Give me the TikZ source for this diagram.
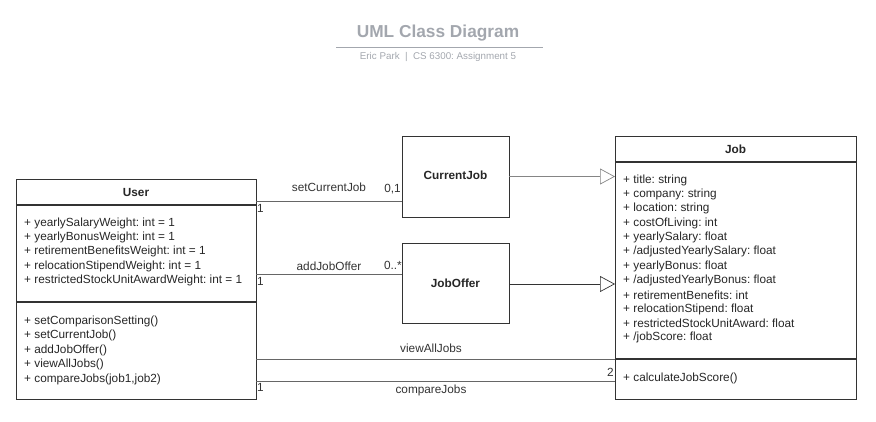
\documentclass[tikz,border=0pt]{standalone}
\usepackage{fontspec}
\setmainfont{Liberation Sans}
\usetikzlibrary{arrows.meta}
\definecolor{ttl}{HTML}{A3A7AE}
\definecolor{edge}{HTML}{333333}
\definecolor{conn}{HTML}{666666}
\frenchspacing
\begin{document}
\begin{tikzpicture}[x=1pt,y=-1pt,
  txt/.style={inner sep=0pt,font=\fontsize{11.8}{14}\selectfont,text=black!85},
  lbl/.style={inner sep=0pt,font=\fontsize{11.8}{14}\selectfont,text=black!80},
  bold/.style={inner sep=0pt,font=\fontsize{11.8}{14}\selectfont\bfseries,text=black!85},
  boxline/.style={draw=edge,line width=1.2pt},
  assoc/.style={draw=conn,line width=0.7pt},
  gen/.style={draw=conn,line width=0.7pt,-{Triangle[open,length=15pt,width=16pt,fill=white]}},
  attr/.style={txt,anchor=west}]
\useasboundingbox (0,0) rectangle (876,421);
% title
\node[inner sep=0pt,font=\fontsize{17.3}{20}\selectfont\bfseries,text=ttl] (title) at (438,33) {UML Class Diagram};
\coordinate (tl) at (336,47);
\coordinate (tr) at (543,47);
\draw[ttl,line width=1pt] (tl) -- (tr);
\node[inner sep=0pt,font=\fontsize{9.8}{11}\selectfont,text=ttl] (sub) at (438,57) {Eric Park \ | \ CS 6300: Assignment 5};
% User class
\node[boxline,minimum width=240pt,minimum height=220pt,anchor=north west,inner sep=0pt] (user) at (16,179) {};
\draw[boxline] (16,205) -- (256,205);
\draw[boxline] (16,302) -- (256,302);
\node[bold] (userT) at (136,192) {User};
\foreach \t [count=\i from 0] in {+ yearlySalaryWeight: int = 1,+ yearlyBonusWeight: int = 1,+ retirementBenefitsWeight: int = 1,+ relocationStipendWeight: int = 1,+ restrictedStockUnitAwardWeight: int = 1}
  \node[attr] (ua\i) at (24,223+14.4*\i) {\t};
\foreach \t [count=\i from 0] in {+ setComparisonSetting(),+ setCurrentJob(),+ addJobOffer(),+ viewAllJobs(),+ compareJobs(job1{,}job2)}
  \node[attr] (um\i) at (24,321+14.5*\i) {\t};
% CurrentJob and JobOffer
\node[boxline,minimum width=107pt,minimum height=81pt,anchor=north west,inner sep=0pt] (cj) at (402,136) {};
\node[bold] (cjT) at (455.5,175) {CurrentJob};
\node[boxline,minimum width=107pt,minimum height=80pt,anchor=north west,inner sep=0pt] (jo) at (402,243) {};
\node[bold] (joT) at (455.5,283) {JobOffer};
% Job class
\node[boxline,minimum width=241pt,minimum height=263pt,anchor=north west,inner sep=0pt] (job) at (615,136) {};
\draw[boxline] (615,162) -- (856,162);
\draw[boxline] (615,359) -- (856,359);
\node[bold] (jobT) at (735.5,149) {Job};
\foreach \t [count=\i from 0] in {+ title: string,+ company: string,+ location: string,+ costOfLiving: int,+ yearlySalary: float,+ /adjustedYearlySalary: float,+ yearlyBonus: float,+ /adjustedYearlyBonus: float,+ retirementBenefits: int,+ relocationStipend: float,+ restrictedStockUnitAward: float,+ /jobScore: float}
  \node[attr] (ja\i) at (623,180+14.35*\i) {\t};
\node[attr] (jm0) at (623,378) {+ calculateJobScore()};
% connectors
\coordinate (u1) at (256,201); \coordinate (c1) at (402,201);
\draw[assoc] (u1) -- (c1);
\node[lbl] (l1) at (329,187) {setCurrentJob};
\node[lbl,anchor=south east] (m1a) at (401,194) {0,1};
\node[lbl,anchor=north west] (m1b) at (257,204) {1};
\coordinate (u2) at (256,274); \coordinate (c2) at (402,274);
\draw[assoc] (u2) -- (c2);
\node[lbl] (l2) at (329,266) {addJobOffer};
\node[lbl,anchor=south east] (m2a) at (402,270) {0..*};
\node[lbl,anchor=north west] (m2b) at (257,277) {1};
\coordinate (g1a) at (509,176.5); \coordinate (g1b) at (615,176.5);
\draw[gen,draw=conn!80] (g1a) -- (g1b);
\coordinate (g2a) at (509,284); \coordinate (g2b) at (615,284);
\draw[gen,draw=edge] (g2a) -- (g2b);
\coordinate (u3) at (256,359.5); \coordinate (j3) at (615,359.5);
\draw[assoc] (u3) -- (j3);
\node[lbl] (l3) at (431,348) {viewAllJobs};
\coordinate (u4) at (256,381); \coordinate (j4) at (615,381);
\draw[assoc] (u4) -- (j4);
\node[lbl] (l4) at (431,390) {compareJobs};
\node[lbl,anchor=north west] (m4a) at (257,383) {1};
\node[lbl,anchor=south east] (m4b) at (614,377) {2};
\end{tikzpicture}
\end{document}
